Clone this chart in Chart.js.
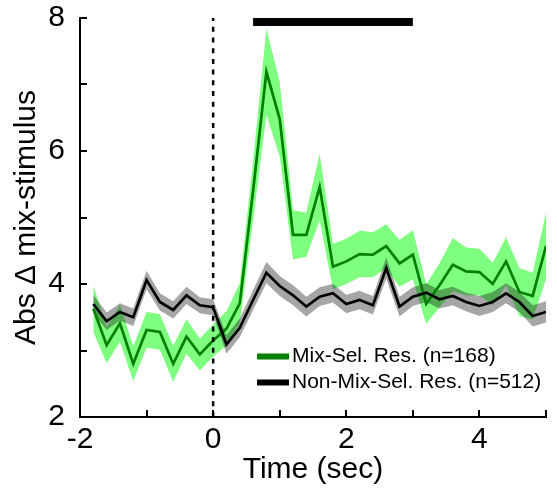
<!DOCTYPE html>
<html><head><meta charset="utf-8">
<script src="https://cdn.jsdelivr.net/npm/chart.js@4/dist/chart.umd.min.js"></script>
<style>html,body{margin:0;padding:0;background:#fff;overflow:hidden}#wrap{width:557px;height:491px}</style>
</head><body><div id="wrap"><canvas id="c" width="557" height="491"></canvas></div>
<script>
// ---- data ----
const timeSec = [-1.8,-1.6,-1.4,-1.2,-1.0,-0.8,-0.6,-0.4,-0.2,0.0,0.2,0.4,0.6,0.8,1.0,1.2,1.4,1.6,1.8,2.0,2.2,2.4,2.6,2.8,3.0,3.2,3.4,3.6,3.8,4.0,4.2,4.4,4.6,4.8,5.0];
const mixSelMean = [3.63,3.08,3.41,2.80,3.31,3.28,2.80,3.21,2.94,3.15,3.33,3.71,5.40,7.19,6.48,4.74,4.74,5.46,4.26,4.34,4.45,4.44,4.57,4.31,4.44,3.70,3.98,4.29,4.19,4.18,4.00,4.34,3.88,3.82,4.57];
const mixSelSem = [0.35,0.27,0.28,0.26,0.27,0.27,0.27,0.26,0.24,0.24,0.26,0.30,0.45,0.65,0.56,0.37,0.33,0.50,0.34,0.34,0.35,0.34,0.33,0.35,0.37,0.30,0.33,0.40,0.36,0.35,0.32,0.36,0.36,0.35,0.50];
const nonMixMean = [3.70,3.44,3.58,3.50,4.06,3.73,3.61,3.83,3.68,3.65,3.09,3.34,3.76,4.17,3.97,3.83,3.66,3.81,3.86,3.70,3.76,3.68,4.24,3.66,3.81,3.87,3.77,3.82,3.73,3.67,3.73,3.86,3.73,3.52,3.58];
const nonMixSem = [0.14,0.13,0.13,0.13,0.14,0.13,0.13,0.13,0.12,0.12,0.14,0.14,0.15,0.16,0.15,0.15,0.15,0.14,0.14,0.14,0.14,0.14,0.16,0.15,0.14,0.14,0.14,0.14,0.14,0.15,0.15,0.15,0.15,0.16,0.16];
const xTickValues = [-2,-1,0,1,2,3,4,5];
const xTickLabels = ['-2','','0','','2','','4',''];
const yTickValues = [2,3,4,5,6,7,8];
const yTickLabels = ['2','','4','','6','','8'];
const sigBarTimes = [0.6, 3.0];
const sigBarLevel = [7.94, 7.94];
const stimOnsetTimes = [0, 0];
const stimOnsetRange = [2, 8];
const legendLabels = ['Mix-Sel. Res. (n=168)', 'Non-Mix-Sel. Res. (n=512)'];
const xTitle = 'Time (sec)';
const yTitle = 'Abs \u0394 mix-stimulus';

const FONT = "'Liberation Sans', Arial, Helvetica, sans-serif";
const GREEN = '#008000';
const pts = ys => timeSec.map((t, i) => ({x: t, y: ys[i]}));
const hidden = {borderWidth: 0, pointRadius: 0, pointHoverRadius: 0};

const tickPlugin = {
  id: 'innerTicksLegend',
  afterDraw(chart) {
    const {ctx, chartArea: a, scales: {x, y}} = chart;
    ctx.save();
    ctx.strokeStyle = '#000';
    ctx.lineWidth = 2;
    xTickValues.forEach(v => {
      const px = Math.round(x.getPixelForValue(v));
      ctx.beginPath(); ctx.moveTo(px, a.bottom); ctx.lineTo(px, a.bottom - 7); ctx.stroke();
    });
    yTickValues.forEach(v => {
      const py = Math.round(y.getPixelForValue(v));
      ctx.beginPath(); ctx.moveTo(a.left, py); ctx.lineTo(a.left + 7, py); ctx.stroke();
    });
    // legend
    const rows = [{c: GREEN, t: legendLabels[0], y: 356.5}, {c: '#000', t: legendLabels[1], y: 382.5}];
    ctx.font = '21px ' + FONT;
    ctx.textBaseline = 'middle';
    ctx.textAlign = 'left';
    rows.forEach(r => {
      ctx.strokeStyle = r.c; ctx.lineWidth = 6; ctx.lineCap = 'butt';
      ctx.beginPath(); ctx.moveTo(257, r.y); ctx.lineTo(289, r.y); ctx.stroke();
      ctx.fillStyle = '#000';
      ctx.fillText(r.t, 292, r.y);
    });
    ctx.restore();
  }
};

new Chart(document.getElementById('c'), {
  type: 'line',
  data: {
    datasets: [
      Object.assign({label: 'mixUpper', data: pts(mixSelMean.map((m, i) => m + mixSelSem[i])), fill: '+1', backgroundColor: 'rgba(0,255,0,0.5)', order: 6}, hidden),
      Object.assign({label: 'mixLower', data: pts(mixSelMean.map((m, i) => m - mixSelSem[i])), fill: false, order: 6}, hidden),
      Object.assign({label: 'nonUpper', data: pts(nonMixMean.map((m, i) => m + nonMixSem[i])), fill: '+1', backgroundColor: 'rgba(0,0,0,0.35)', order: 5}, hidden),
      Object.assign({label: 'nonLower', data: pts(nonMixMean.map((m, i) => m - nonMixSem[i])), fill: false, order: 5}, hidden),
      {label: legendLabels[0], data: pts(mixSelMean), borderColor: GREEN, borderWidth: 2.7, pointRadius: 0, fill: false, order: 3},
      {label: legendLabels[1], data: pts(nonMixMean), borderColor: '#000', borderWidth: 2.7, pointRadius: 0, fill: false, order: 2},
      {label: 'onset', data: stimOnsetTimes.map((t, i) => ({x: t, y: stimOnsetRange[i]})), borderColor: '#000', borderWidth: 2.5, borderDash: [5, 5.7], pointRadius: 0, fill: false, order: 1},
      {label: 'sig', data: sigBarTimes.map((t, i) => ({x: t, y: sigBarLevel[i]})), borderColor: '#000', borderWidth: 8, borderCapStyle: 'butt', pointRadius: 0, fill: false, clip: false, order: 0}
    ]
  },
  options: {
    responsive: false,
    animation: false,
    devicePixelRatio: 1,
    layout: {padding: {left: 0, right: 11, top: 18, bottom: 0}},
    plugins: {legend: {display: false}, tooltip: {enabled: false}},
    elements: {line: {tension: 0}},
    scales: {
      x: {
        type: 'linear', min: -2, max: 5,
        grid: {display: false, drawTicks: false},
        border: {display: true, color: '#000', width: 2},
        afterBuildTicks: s => { s.ticks = xTickValues.map(v => ({value: v})); },
        ticks: {autoSkip: false, maxRotation: 0, padding: 5, color: '#000', font: {family: FONT, size: 30},
          callback: v => xTickLabels[xTickValues.indexOf(v)] ?? ''},
        title: {display: true, text: xTitle, color: '#000', font: {family: FONT, size: 30, lineHeight: 1}, padding: {top: 0, bottom: 6}},
        afterFit: s => { s.height = 74; s.paddingLeft = 0; s.paddingRight = 0; }
      },
      y: {
        type: 'linear', min: 2, max: 8,
        grid: {display: false, drawTicks: false},
        border: {display: true, color: '#000', width: 2},
        afterBuildTicks: s => { s.ticks = yTickValues.map(v => ({value: v})); },
        ticks: {autoSkip: false, padding: 15, color: '#000', font: {family: FONT, size: 30},
          callback: v => yTickLabels[yTickValues.indexOf(v)] ?? ''},
        title: {display: true, text: yTitle, color: '#000', font: {family: FONT, size: 30, lineHeight: 1}, padding: {top: 12, bottom: 0}},
        afterFit: s => { s.width = 80; s.paddingTop = 0; s.paddingBottom = 0; }
      }
    }
  },
  plugins: [tickPlugin]
});
</script>
</body></html>
